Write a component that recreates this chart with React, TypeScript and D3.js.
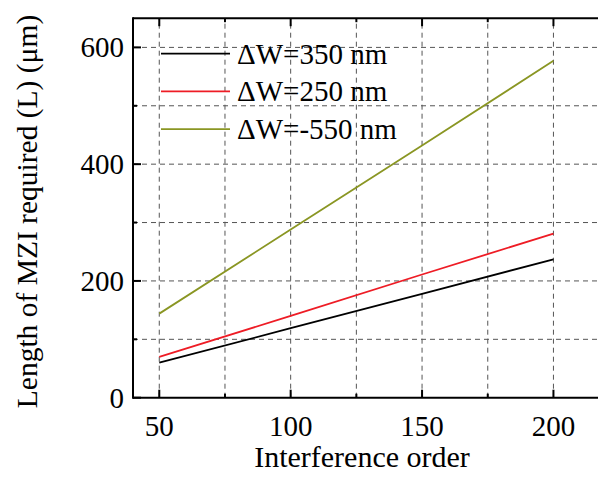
import React from "react";
import * as d3 from "d3";

const W = 598;
const H = 484;

// interference order (x) and MZI length in µm (y)
const orders = [50, 100, 150, 200];
const dw350 = [60, 119, 178, 237];
const dw250 = [70, 140, 211, 281];
const dwNeg550 = [144, 288, 432, 577];

const seriesNames = ["\u0394W=350 nm", "\u0394W=250 nm", "\u0394W=-550 nm"];
const seriesColors = ["#000000", "#ee1c25", "#8a9623"];

const xMajor = [50, 100, 150, 200];
const xMinor = [75, 125, 175];
const yMajor = [0, 200, 400, 600];
const yMinor = [100, 300, 500];
const xGrid = [50, 75, 100, 125, 150, 175, 200];
const yGrid = [100, 200, 300, 400, 500, 600];

const FONT = "Liberation Serif, Times New Roman, serif";

export default function App() {
  const x = d3.scaleLinear().domain([40, 220]).range([133, 606]);
  const y = d3.scaleLinear().domain([0, 650]).range([397.7, 18.2]);

  const [x0, x1] = x.range();
  const [y0, y1] = y.range();

  const line = d3
    .line<number>()
    .x((_, i) => x(orders[i]))
    .y((d) => y(d));

  const allSeries = [dw350, dw250, dwNeg550];

  return (
    <svg
      width={W}
      height={H}
      style={{ position: "absolute", left: 0, top: 0, background: "#fff", fontFamily: FONT }}
    >
      {/* grid */}
      <g stroke="#555" strokeWidth={1} strokeDasharray="5,4">
        {xGrid.map((v) => (
          <line key={"gx" + v} x1={x(v)} x2={x(v)} y1={y0} y2={y1} />
        ))}
        {yGrid.map((v) => (
          <line key={"gy" + v} x1={x0} x2={x1} y1={y(v)} y2={y(v)} />
        ))}
      </g>

      {/* data */}
      {allSeries.map((s, i) => (
        <path
          key={i}
          d={line(s) ?? ""}
          fill="none"
          stroke={seriesColors[i]}
          strokeWidth={1.8}
        />
      ))}

      {/* frame */}
      <g stroke="#000" strokeWidth={2}>
        <line x1={x0} x2={x0} y1={y0 + 1} y2={y1 - 1} />
        <line x1={x0} x2={x1} y1={y0} y2={y0} />
        <line x1={x0} x2={x1} y1={y1} y2={y1} />
      </g>

      {/* ticks, inward and mirrored on top */}
      <g stroke="#000" strokeWidth={2}>
        {xMajor.map((v) => (
          <g key={"xt" + v}>
            <line x1={x(v)} x2={x(v)} y1={y0} y2={y0 - 8} />
            <line x1={x(v)} x2={x(v)} y1={y1} y2={y1 + 8} />
          </g>
        ))}
        {xMinor.map((v) => (
          <g key={"xm" + v}>
            <line x1={x(v)} x2={x(v)} y1={y0} y2={y0 - 4} />
            <line x1={x(v)} x2={x(v)} y1={y1} y2={y1 + 4} />
          </g>
        ))}
        {yMajor.map((v) => (
          <line key={"yt" + v} x1={x0} x2={x0 + 8} y1={y(v)} y2={y(v)} />
        ))}
        {yMinor.map((v) => (
          <line key={"ym" + v} x1={x0} x2={x0 + 4} y1={y(v)} y2={y(v)} />
        ))}
      </g>

      {/* tick labels */}
      <g fontSize={29} fill="#000" fontFamily={FONT}>
        {xMajor.map((v) => (
          <text key={"xl" + v} x={x(v)} y={y0 + 38} textAnchor="middle" fontFamily={FONT}>
            {v}
          </text>
        ))}
        {yMajor.map((v) => (
          <text key={"yl" + v} x={x0 - 9} y={y(v) + 10} textAnchor="end" fontFamily={FONT}>
            {v}
          </text>
        ))}
      </g>

      {/* axis titles */}
      <text x={362} y={467} textAnchor="middle" fontSize={30} fill="#000" fontFamily={FONT}>
        Interference order
      </text>
      <text
        transform={`translate(37,${211.5}) rotate(-90)`}
        textAnchor="middle"
        fontSize={29.5}
        fill="#000"
        fontFamily={FONT}
      >
        Length of MZI required (L) ({"\u03bc"}m)
      </text>

      {/* legend */}
      <g fill="#000" fontSize={29} fontFamily={FONT}>
        {seriesNames.map((name, i) => {
          const ly = 53.7 + i * 37.7;
          return (
            <g key={name}>
              <line
                x1={161}
                x2={230}
                y1={ly}
                y2={ly}
                stroke={seriesColors[i]}
                strokeWidth={1.8}
              />
              <text x={237} y={ly + 10} fontFamily={FONT}>
                {name}
              </text>
            </g>
          );
        })}
      </g>
    </svg>
  );
}
